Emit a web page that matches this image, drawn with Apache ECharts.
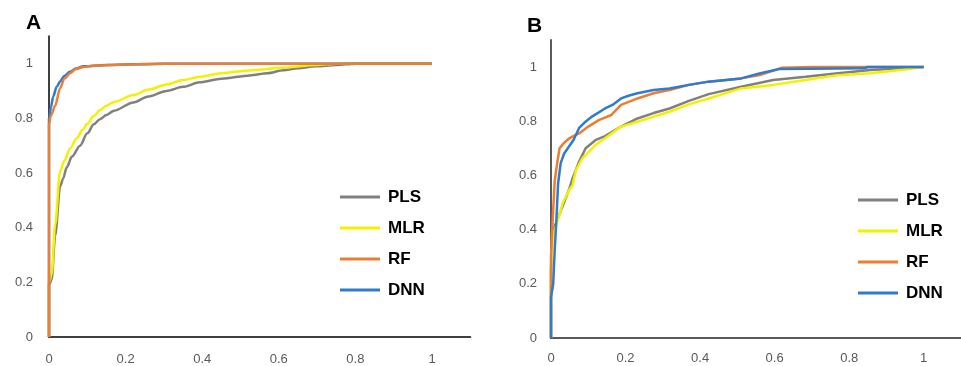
<!DOCTYPE html>
<html>
<head>
<meta charset="utf-8">
<script src="https://cdn.jsdelivr.net/npm/echarts@6/dist/echarts.min.js"></script>
<style>html,body{margin:0;padding:0;background:#fff;}#c{width:961px;height:366px;}</style>
</head>
<body>
<div id="c"></div>
<script>
// Panel A data ([FPR, TPR])
var aPLS = [[0,0],[0,0.19],[0.007,0.21],[0.016,0.37],[0.029,0.55],[0.037,0.58],[0.046,0.62],[0.06,0.66],[0.081,0.70],[0.1,0.745],[0.117,0.778],[0.133,0.797],[0.15,0.812],[0.17,0.828],[0.22,0.858],[0.26,0.88],[0.307,0.90],[0.35,0.915],[0.394,0.932],[0.45,0.945],[0.525,0.957],[0.57,0.965],[0.612,0.976],[0.65,0.983],[0.697,0.99],[0.75,0.995],[0.8,1],[1,1]];
var aMLR = [[0,0],[0,0.2],[0.007,0.23],[0.016,0.41],[0.029,0.606],[0.04,0.645],[0.055,0.69],[0.072,0.726],[0.088,0.758],[0.1,0.78],[0.117,0.808],[0.133,0.83],[0.15,0.846],[0.17,0.86],[0.22,0.885],[0.26,0.905],[0.307,0.924],[0.35,0.94],[0.394,0.952],[0.45,0.965],[0.525,0.975],[0.612,0.985],[0.697,0.995],[0.75,1],[1,1]];
var aRF = [[0,0],[0,0.78],[0.005,0.81],[0.016,0.846],[0.029,0.91],[0.04,0.945],[0.055,0.965],[0.07,0.98],[0.09,0.988],[0.12,0.993],[0.2,0.997],[0.3,1],[1,1]];
var aDNN = [[0,0],[0,0.8],[0.005,0.84],[0.011,0.88],[0.02,0.915],[0.029,0.935],[0.04,0.955],[0.055,0.97],[0.07,0.982],[0.09,0.99],[0.15,0.995],[0.3,1],[1,1]];
// Panel B data
var bPLS = [[0,0],[0,0.25],[0.003,0.39],[0.015,0.43],[0.032,0.49],[0.049,0.55],[0.058,0.59],[0.075,0.65],[0.093,0.70],[0.119,0.73],[0.145,0.745],[0.188,0.78],[0.232,0.81],[0.275,0.83],[0.318,0.847],[0.37,0.875],[0.423,0.9],[0.51,0.927],[0.596,0.952],[0.683,0.964],[0.77,0.977],[0.857,0.989],[0.944,0.995],[1,1]];
var bMLR = [[0,0],[0,0.25],[0.005,0.38],[0.015,0.42],[0.032,0.50],[0.049,0.546],[0.058,0.565],[0.067,0.62],[0.084,0.663],[0.119,0.712],[0.145,0.737],[0.188,0.78],[0.232,0.798],[0.275,0.817],[0.318,0.835],[0.37,0.862],[0.423,0.884],[0.51,0.921],[0.596,0.934],[0.683,0.952],[0.77,0.97],[0.857,0.977],[0.944,0.99],[1,1]];
var bRF = [[0,0],[0,0.3],[0.005,0.45],[0.01,0.58],[0.016,0.64],[0.023,0.70],[0.035,0.72],[0.049,0.737],[0.06,0.745],[0.0755,0.755],[0.1,0.78],[0.128,0.804],[0.162,0.823],[0.188,0.86],[0.21,0.872],[0.232,0.884],[0.275,0.903],[0.318,0.915],[0.37,0.934],[0.423,0.946],[0.51,0.958],[0.56,0.97],[0.62,0.997],[0.7,1],[1,1]];
var bDNN = [[0,0],[0,0.15],[0.006,0.2],[0.01,0.325],[0.015,0.45],[0.019,0.57],[0.026,0.645],[0.035,0.68],[0.045,0.70],[0.06,0.73],[0.0755,0.775],[0.09,0.795],[0.11,0.817],[0.145,0.847],[0.165,0.86],[0.188,0.884],[0.21,0.895],[0.232,0.903],[0.275,0.915],[0.318,0.921],[0.37,0.934],[0.423,0.946],[0.51,0.958],[0.562,0.977],[0.614,0.993],[0.84,0.995],[0.85,1],[1,1]];
var seriesNames = ['PLS','MLR','RF','DNN'];
var panelLabels = ['A','B'];

var colors = {PLS:'#808080', MLR:'#f2f200', RF:'#ed7d31', DNN:'#2e7bcf'};
var chart = echarts.init(document.getElementById('c'));
function fmt(v){return v>1.01?'':String(+v.toFixed(1));}
function axisX(gi, col, m){
  return {type:'value', gridIndex:gi, min:0, max:1.1, interval:0.2,
    axisLine:{show:true, onZero:false, lineStyle:{color:col, width:2}},
    axisTick:{show:false}, splitLine:{show:false},
    axisLabel:{color:'#595959', fontSize:13, fontFamily:'Liberation Sans', margin:m, showMaxLabel:false, formatter:fmt}};
}
function axisY(gi, col, m){
  return {type:'value', gridIndex:gi, min:0, max:1.1, interval:0.2,
    axisLine:{show:true, onZero:false, lineStyle:{color:col, width:2}},
    axisTick:{show:false}, splitLine:{show:false},
    axisLabel:{color:'#595959', fontSize:13, fontFamily:'Liberation Sans', margin:m, showMaxLabel:false, formatter:fmt}};
}
function mk(name, data, gi, z, sm){
  return {name:name, type:'line', xAxisIndex:gi, yAxisIndex:gi, data:data, showSymbol:false, symbol:'none',
    smooth:sm, smoothMonotone:'x',
    lineStyle:{color:colors[name], width:2.5}, itemStyle:{color:colors[name]}, z:z, animation:false};
}
function legend(left, top){
  return {orient:'vertical', left:left, top:top, itemWidth:40, itemHeight:3, icon:'rect', itemGap:11,
    data:seriesNames,
    textStyle:{color:'#000', fontSize:17, fontWeight:'bold', fontFamily:'Liberation Sans', lineHeight:20, padding:[0,0,0,3]}};
}
var option = {
  backgroundColor:'#fff',
  animation:false,
  title:[
    {text:panelLabels[0], left:21, top:8, textStyle:{fontSize:21, fontWeight:'bold', color:'#000', fontFamily:'Liberation Sans'}},
    {text:panelLabels[1], left:522, top:11, textStyle:{fontSize:21, fontWeight:'bold', color:'#000', fontFamily:'Liberation Sans'}}
  ],
  legend:[legend(335,182), legend(853,185)],
  grid:[
    {left:49, top:36.3, width:421.3, height:304.7},
    {left:551, top:39.9, width:422.4, height:298.1}
  ],
  xAxis:[axisX(0,'#404040',16), axisX(1,'#5a5a5a',14)],
  yAxis:[axisY(0,'#404040',16), axisY(1,'#5a5a5a',14)],
  series:[
    mk('PLS', aPLS, 0, 2, 0.3), mk('MLR', aMLR, 0, 3, 0.3), mk('RF', aRF, 0, 5, 0.3), mk('DNN', aDNN, 0, 4, 0.3),
    mk('PLS', bPLS, 1, 2, false), mk('MLR', bMLR, 1, 3, false), mk('RF', bRF, 1, 4, false), mk('DNN', bDNN, 1, 5, false)
  ]
};
chart.setOption(option);
</script>
</body>
</html>
